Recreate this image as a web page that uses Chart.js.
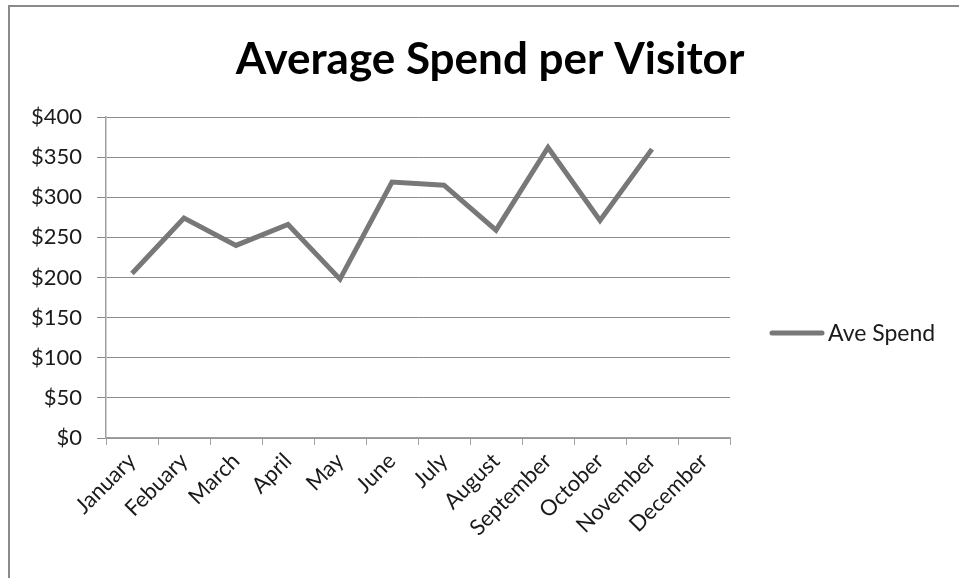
<!DOCTYPE html>
<html>
<head>
<meta charset="utf-8">
<script src="https://cdn.jsdelivr.net/npm/chart.js@4"></script>
<style>
    body { margin: 0; background: #fff; overflow: hidden; }
    #frame {
        position: absolute;
        left: 8px;
        top: 5px;
        width: 960px;
        height: 600px;
        border: 2px solid #8a8a8a;
        background: #fff;
    }
</style>
</head>
<body>
<div id="frame"><canvas id="myChart" width="960" height="600"></canvas></div>
<script>
// Chart data
const months = ["January", "Febuary", "March", "April", "May", "June",
    "July", "August", "September", "October", "November", "December"]
const aveSpend = [205, 274, 240, 266, 198, 319, 315, 259, 362, 271, 360, null]
const seriesName = "Ave Spend"
const chartTitle = "Average Spend per Visitor"
const yTicks = [0, 50, 100, 150, 200, 250, 300, 350, 400]

const font = "Lato"

// title and legend drawn by hand: the title is centred on the whole frame,
// the legend sits to the right of the plot like in the original
const frameText = {
    id: "frameText",
    afterDraw(chart) {
        const ctx = chart.ctx
        const ds = chart.data.datasets[0]
        ctx.save()
        ctx.fillStyle = "#000"
        ctx.font = "bold 44px " + font
        ctx.textAlign = "center"
        ctx.textBaseline = "alphabetic"
        ctx.fillText(chartTitle, chart.width / 2, 67)

        const y = 326
        ctx.strokeStyle = ds.borderColor
        ctx.lineWidth = ds.borderWidth
        ctx.lineCap = "round"
        ctx.beginPath()
        ctx.moveTo(762, y)
        ctx.lineTo(812, y)
        ctx.stroke()
        ctx.fillStyle = "#1a1a1a"
        ctx.font = "23px " + font
        ctx.textAlign = "left"
        ctx.textBaseline = "middle"
        ctx.fillText(ds.label, 818, y + 1)
        ctx.restore()
    }
}

const chart = document.getElementById("myChart").getContext("2d")

new Chart(chart, {
    type: "line",
    data: {
        labels: months,
        datasets: [{
            label: seriesName,
            data: aveSpend,
            borderColor: "#787878",
            borderWidth: 5,
            pointRadius: 0,
            tension: 0,
            spanGaps: false
        }]
    },
    options: {
        responsive: false,
        animation: false,
        layout: {
            padding: { left: 0, right: 240, top: 110, bottom: 0 }
        },
        plugins: {
            legend: { display: false },
            tooltip: { enabled: false },
            title: { display: false }
        },
        scales: {
            x: {
                offset: true,
                grid: {
                    offset: true,
                    drawOnChartArea: false,
                    color: "#a0a0a0",
                    tickLength: 7
                },
                border: { color: "#a0a0a0", width: 1.5 },
                ticks: {
                    color: "#1a1a1a",
                    font: { family: font, size: 22 },
                    minRotation: 45,
                    maxRotation: 45,
                    padding: 3,
                    autoSkip: false
                },
                afterFit(scale) { scale.height = 169 }
            },
            y: {
                min: 0,
                max: 400,
                afterBuildTicks(scale) {
                    scale.ticks = yTicks.map(v => ({ value: v }))
                },
                grid: {
                    color: "#8c8c8c",
                    tickLength: 9
                },
                border: { color: "#a0a0a0", width: 1.5 },
                ticks: {
                    color: "#1a1a1a",
                    font: { family: font, size: 22 },
                    padding: 15,
                    callback: v => "$" + v
                },
                afterFit(scale) { scale.width = 96 }
            }
        }
    },
    plugins: [frameText]
})
</script>
</body>
</html>
